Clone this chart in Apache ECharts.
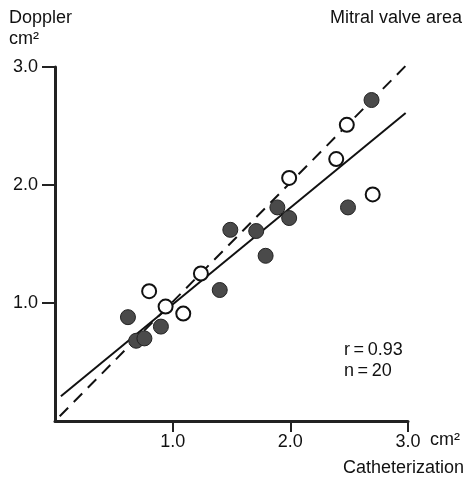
<!DOCTYPE html>
<html>
<head>
<meta charset="utf-8">
<script src="https://cdn.jsdelivr.net/npm/echarts@6/dist/echarts.min.js"></script>
<style>
  html, body { margin: 0; padding: 0; background: #fff; }
  #chart { width: 467px; height: 482px; }
</style>
</head>
<body>
<div id="chart"></div>
<script>
  // catheterization (x) vs doppler (y), cm2
  var filledPoints = [
    [0.62, 0.88], [0.69, 0.68], [0.76, 0.70], [0.90, 0.80], [1.40, 1.11],
    [1.49, 1.62], [1.71, 1.61], [1.79, 1.40], [1.89, 1.81], [1.99, 1.72],
    [2.49, 1.81], [2.69, 2.72]
  ];
  var openPoints = [
    [0.80, 1.10], [0.94, 0.97], [1.09, 0.91], [1.24, 1.25],
    [1.99, 2.06], [2.39, 2.22], [2.48, 2.51], [2.70, 1.92]
  ];
  var identityLine = [[0.04, 0.04], [3.0, 3.03]];
  var regressionLine = [[0.05, 0.21], [2.98, 2.61]];
  var xTicks = [1.0, 2.0, 3.0];
  var yTicks = [1.0, 2.0, 3.0];

  var font = 'Liberation Sans, Arial, sans-serif';
  var chart = echarts.init(document.getElementById('chart'));

  chart.setOption({
    animation: false,
    grid: { left: 55, right: 59, top: 67, bottom: 61 },
    xAxis: {
      type: 'value', min: 0, max: 3, interval: 1,
      axisLine: { lineStyle: { color: '#222', width: 3 } },
      axisTick: { show: true, length: 11, customValues: xTicks, lineStyle: { color: '#222', width: 2 } },
      axisLabel: {
        margin: 12, color: '#111', fontSize: 18, fontFamily: font, customValues: xTicks,
        formatter: function (v) { return v.toFixed(1); }
      },
      splitLine: { show: false }
    },
    yAxis: {
      type: 'value', min: 0, max: 3, interval: 1,
      axisLine: { show: true, lineStyle: { color: '#222', width: 3 } },
      axisTick: { show: true, length: 13, customValues: yTicks, lineStyle: { color: '#222', width: 2 } },
      axisLabel: {
        margin: 17, color: '#111', fontSize: 18, fontFamily: font, customValues: yTicks,
        formatter: function (v) { return v.toFixed(1); }
      },
      splitLine: { show: false }
    },
    graphic: [
      { type: 'text', left: 9, top: 9, style: { text: 'Doppler', font: '18px ' + font, fill: '#111' } },
      { type: 'text', left: 9, top: 30, style: { text: 'cm²', font: '18px ' + font, fill: '#111' } },
      { type: 'text', right: 5, top: 9, style: { text: 'Mitral valve area', font: '18px ' + font, fill: '#111' } },
      { type: 'text', left: 430, top: 431, style: { text: 'cm²', font: '18px ' + font, fill: '#111' } },
      { type: 'text', right: 3, top: 459, style: { text: 'Catheterization', font: '18px ' + font, fill: '#111' } },
      { type: 'text', left: 344, top: 341, style: { text: 'r\u2009=\u20090.93', font: '18px ' + font, fill: '#111' } },
      { type: 'text', left: 344, top: 362, style: { text: 'n\u2009=\u200920', font: '18px ' + font, fill: '#111' } }
    ],
    series: [
      {
        type: 'line', data: identityLine, symbol: 'none', clip: false,
        lineStyle: { color: '#111', width: 2, type: [12, 8] }, z: 2
      },
      {
        type: 'line', data: regressionLine, symbol: 'none', clip: false,
        lineStyle: { color: '#111', width: 2 }, z: 2
      },
      {
        type: 'scatter', data: openPoints, symbol: 'circle', symbolSize: 14,
        itemStyle: { color: '#fff', borderColor: '#111', borderWidth: 2, opacity: 1 }, z: 3
      },
      {
        type: 'scatter', data: filledPoints, symbol: 'circle', symbolSize: 15,
        itemStyle: { color: '#4a4a4a', borderColor: '#222', borderWidth: 1, opacity: 1 }, z: 4
      }
    ]
  });
</script>
</body>
</html>
